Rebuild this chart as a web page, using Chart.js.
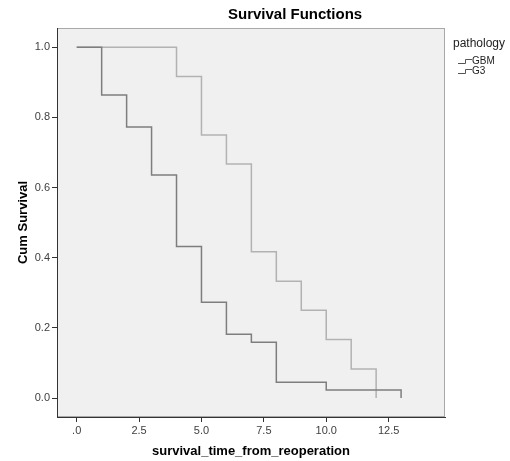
<!DOCTYPE html>
<html>
<head>
<meta charset="utf-8">
<script src="https://cdn.jsdelivr.net/npm/chart.js@4"></script>
<style>
  html, body { margin: 0; padding: 0; background: #fff; }
  #wrap { width: 510px; height: 461px; }
</style>
</head>
<body>
<div id="wrap"><canvas id="km" width="510" height="461"></canvas></div>
<script>
// Kaplan-Meier steps
const gbmTime = [0, 1, 2, 3, 4, 5, 6, 7, 8, 10, 13];
const gbmSurv = [1, 0.864, 0.773, 0.636, 0.432, 0.273, 0.182, 0.159, 0.045, 0.023, 0];
const g3Time = [0, 4, 5, 6, 7, 8, 9, 10, 11, 12];
const g3Surv = [1, 0.917, 0.75, 0.667, 0.417, 0.333, 0.25, 0.167, 0.083, 0];

const groups = ['GBM', 'G3'];
const xTicks = [0, 2.5, 5, 7.5, 10, 12.5];
const xTickLabels = ['.0', '2.5', '5.0', '7.5', '10.0', '12.5'];
const yTicks = [0, 0.2, 0.4, 0.6, 0.8, 1.0];
const yTickLabels = ['0.0', '0.2', '0.4', '0.6', '0.8', '1.0'];

const FONT = 'Arial, "Liberation Sans", sans-serif';

function toPoints(t, s) {
  return t.map((v, i) => ({ x: v, y: s[i] }));
}

// grey panel behind the plot + title + legend
const spssLook = {
  id: 'spssLook',
  beforeDraw(chart) {
    const { ctx, chartArea: a } = chart;
    ctx.save();
    ctx.fillStyle = '#f0f0f0';
    ctx.fillRect(a.left, a.top, a.right - a.left, a.bottom - a.top);
    ctx.strokeStyle = '#a8a8a8';
    ctx.lineWidth = 1;
    ctx.strokeRect(a.left + 0.5, a.top + 0.5, a.right - a.left - 1, a.bottom - a.top - 1);
    ctx.restore();
  },
  afterDraw(chart) {
    const { ctx, chartArea: a } = chart;
    ctx.save();
    ctx.fillStyle = '#000';
    ctx.font = 'bold 15px ' + FONT;
    ctx.textAlign = 'left';
    ctx.textBaseline = 'middle';
    ctx.fillText('Survival Functions', 228, 15);

    // legend
    ctx.font = '12px ' + FONT;
    ctx.fillStyle = '#222';
    ctx.fillText('pathology', a.right + 8, 44);
    ctx.font = '10px ' + FONT;
    chart.data.datasets.forEach((ds, i) => {
      const y = 61 + i * 10;
      ctx.strokeStyle = '#555';
      ctx.lineWidth = 1;
      ctx.beginPath();
      ctx.moveTo(a.right + 13, y + 2.5);
      ctx.lineTo(a.right + 20.5, y + 2.5);
      ctx.lineTo(a.right + 20.5, y - 1.5);
      ctx.lineTo(a.right + 27, y - 1.5);
      ctx.stroke();
      ctx.fillStyle = '#222';
      ctx.fillText(ds.label, a.right + 27, y);
    });
    ctx.restore();
  }
};

new Chart(document.getElementById('km'), {
  type: 'line',
  data: {
    datasets: [
      {
        label: groups[0],
        data: toPoints(gbmTime, gbmSurv),
        borderColor: '#7e7e7e',
        borderWidth: 1.5,
        stepped: 'before',
        pointRadius: 0,
        fill: false
      },
      {
        label: groups[1],
        data: toPoints(g3Time, g3Surv),
        borderColor: '#b2b2b2',
        borderWidth: 1.5,
        stepped: 'before',
        pointRadius: 0,
        fill: false
      }
    ]
  },
  plugins: [spssLook],
  options: {
    responsive: false,
    animation: false,
    layout: { padding: { top: 28, right: 65, left: 0, bottom: 0 } },
    plugins: {
      legend: { display: false },
      title: { display: false },
      tooltip: { enabled: false }
    },
    scales: {
      x: {
        type: 'linear',
        min: -0.79,
        max: 14.76,
        afterFit: s => { s.height = 44; },
        afterBuildTicks: s => { s.ticks = xTicks.map(v => ({ value: v })); },
        ticks: {
          color: '#404040',
          font: { family: FONT, size: 11 },
          padding: 2,
          maxRotation: 0,
          callback: (v) => xTickLabels[xTicks.indexOf(v)]
        },
        grid: { display: true, drawOnChartArea: false, drawTicks: true, tickLength: 5, color: '#333' },
        border: { display: true, color: '#333', width: 1 },
        title: {
          display: true,
          text: 'survival_time_from_reoperation',
          color: '#000',
          font: { family: FONT, size: 13, weight: 'bold' },
          padding: { top: 0, bottom: 2 }
        }
      },
      y: {
        type: 'linear',
        min: -0.054,
        max: 1.055,
        afterFit: s => { s.width = 57; },
        afterBuildTicks: s => { s.ticks = yTicks.map(v => ({ value: v })); },
        ticks: {
          color: '#404040',
          font: { family: FONT, size: 11 },
          padding: 2,
          callback: (v) => yTickLabels[yTicks.indexOf(v)]
        },
        grid: { display: true, drawOnChartArea: false, drawTicks: true, tickLength: 5, color: '#333' },
        border: { display: true, color: '#333', width: 1 },
        title: {
          display: true,
          text: 'Cum Survival',
          color: '#000',
          font: { family: FONT, size: 13, weight: 'bold' },
          padding: { top: 16, bottom: 0 }
        }
      }
    }
  }
});
</script>
</body>
</html>
